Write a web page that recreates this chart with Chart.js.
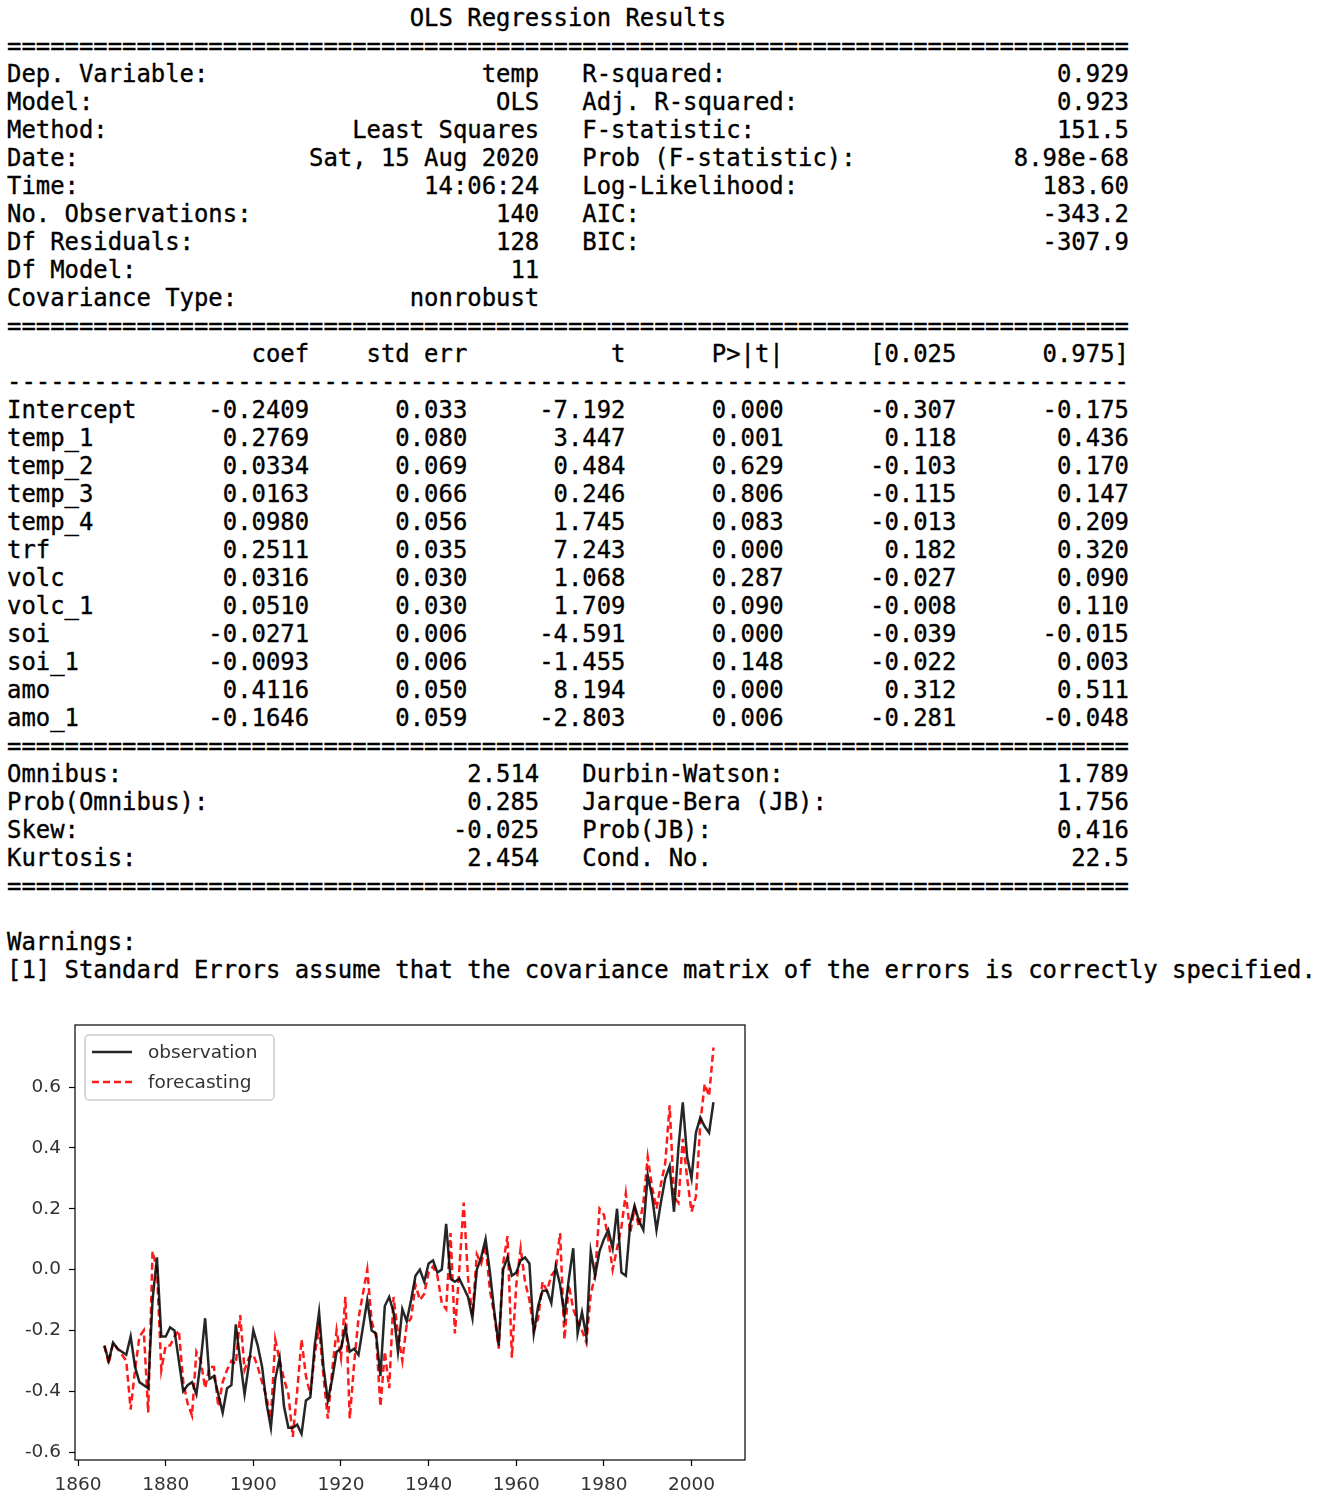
<!DOCTYPE html>
<html>
<head>
<meta charset="utf-8">
<script src="https://cdn.jsdelivr.net/npm/chart.js@4.4.1/dist/chart.umd.min.js"></script>
<style>
  html, body { margin: 0; padding: 0; background: #fff; overflow: hidden; }
  body { width: 1328px; height: 1510px; position: relative; }
  #summary {
    position: absolute; left: 7px; top: 4px; margin: 0;
    font-family: "DejaVu Sans Mono", monospace; font-size: 23.9px; line-height: 28px; color: #000;
    -webkit-text-stroke: 0.35px #000;
  }
  #plot { position: absolute; left: 0; top: 1000px; width: 760px; height: 510px; }
</style>
</head>
<body>
<pre id="summary"></pre>
<div id="plot"><canvas id="chart"></canvas></div>
<script>
// ---- summary table (statsmodels text) ----
const topLeft = [
  ["Dep. Variable:", "temp"], ["Model:", "OLS"], ["Method:", "Least Squares"],
  ["Date:", "Sat, 15 Aug 2020"], ["Time:", "14:06:24"], ["No. Observations:", "140"],
  ["Df Residuals:", "128"], ["Df Model:", "11"], ["Covariance Type:", "nonrobust"]
];
const topRight = [
  ["R-squared:", "0.929"], ["Adj. R-squared:", "0.923"], ["F-statistic:", "151.5"],
  ["Prob (F-statistic):", "8.98e-68"], ["Log-Likelihood:", "183.60"], ["AIC:", "-343.2"],
  ["BIC:", "-307.9"], ["", ""], ["", ""]
];
const coefHeader = ["coef", "std err", "t", "P>|t|", "[0.025", "0.975]"];
const coefRows = [
  ["Intercept", "-0.2409", "0.033", "-7.192", "0.000", "-0.307", "-0.175"],
  ["temp_1", "0.2769", "0.080", "3.447", "0.001", "0.118", "0.436"],
  ["temp_2", "0.0334", "0.069", "0.484", "0.629", "-0.103", "0.170"],
  ["temp_3", "0.0163", "0.066", "0.246", "0.806", "-0.115", "0.147"],
  ["temp_4", "0.0980", "0.056", "1.745", "0.083", "-0.013", "0.209"],
  ["trf", "0.2511", "0.035", "7.243", "0.000", "0.182", "0.320"],
  ["volc", "0.0316", "0.030", "1.068", "0.287", "-0.027", "0.090"],
  ["volc_1", "0.0510", "0.030", "1.709", "0.090", "-0.008", "0.110"],
  ["soi", "-0.0271", "0.006", "-4.591", "0.000", "-0.039", "-0.015"],
  ["soi_1", "-0.0093", "0.006", "-1.455", "0.148", "-0.022", "0.003"],
  ["amo", "0.4116", "0.050", "8.194", "0.000", "0.312", "0.511"],
  ["amo_1", "-0.1646", "0.059", "-2.803", "0.006", "-0.281", "-0.048"]
];
const bottomLeft = [["Omnibus:", "2.514"], ["Prob(Omnibus):", "0.285"], ["Skew:", "-0.025"], ["Kurtosis:", "2.454"]];
const bottomRight = [["Durbin-Watson:", "1.789"], ["Jarque-Bera (JB):", "1.756"], ["Prob(JB):", "0.416"], ["Cond. No.", "22.5"]];

// ---- chart data ----
const firstYear = 1866;
const observation = [
  -0.25, -0.30, -0.24, -0.26, -0.27, -0.28, -0.22, -0.32, -0.37, -0.38,
  -0.39, -0.10, 0.04, -0.22, -0.22, -0.19, -0.20, -0.30, -0.40, -0.38,
  -0.37, -0.41, -0.30, -0.16, -0.36, -0.35, -0.41, -0.47, -0.39, -0.38,
  -0.18, -0.30, -0.41, -0.31, -0.20, -0.25, -0.32, -0.44, -0.52, -0.36,
  -0.29, -0.45, -0.52, -0.52, -0.51, -0.54, -0.43, -0.42, -0.25, -0.14,
  -0.32, -0.43, -0.36, -0.27, -0.26, -0.19, -0.27, -0.26, -0.28, -0.19,
  -0.10, -0.20, -0.21, -0.35, -0.12, -0.09, -0.14, -0.27, -0.13, -0.17,
  -0.10, -0.02, 0.00, -0.04, 0.02, 0.03, -0.01, 0.00, 0.15, -0.03,
  -0.04, -0.03, -0.06, -0.09, -0.16, 0.00, 0.04, 0.10, -0.01, -0.14,
  -0.25, 0.00, 0.04, -0.02, -0.01, 0.03, 0.04, 0.02, -0.21, -0.12,
  -0.07, -0.07, -0.11, 0.01, -0.05, -0.15, -0.03, 0.07, -0.21, -0.14,
  -0.22, 0.06, -0.02, 0.06, 0.10, 0.13, 0.07, 0.20, -0.01, -0.02,
  0.15, 0.21, 0.16, 0.13, 0.31, 0.24, 0.13, 0.22, 0.30, 0.34,
  0.19, 0.40, 0.55, 0.37, 0.30, 0.45, 0.50, 0.47, 0.45, 0.55
];
const forecasting = [
  -0.25, -0.31, -0.24, -0.26, -0.28, -0.30, -0.46, -0.33, -0.22, -0.20,
  -0.47, 0.06, 0.00, -0.33, -0.25, -0.25, -0.22, -0.20, -0.37, -0.44,
  -0.48, -0.27, -0.30, -0.39, -0.32, -0.32, -0.45, -0.37, -0.33, -0.30,
  -0.31, -0.15, -0.33, -0.29, -0.28, -0.32, -0.37, -0.42, -0.49, -0.23,
  -0.30, -0.36, -0.41, -0.55, -0.40, -0.23, -0.35, -0.41, -0.28, -0.19,
  -0.35, -0.49, -0.33, -0.20, -0.29, -0.09, -0.49, -0.31, -0.16, -0.08,
  0.00, -0.17, -0.22, -0.45, -0.27, -0.39, -0.09, -0.21, -0.30, -0.18,
  -0.16, -0.05, -0.10, -0.08, -0.01, 0.01, -0.02, -0.11, -0.13, 0.12,
  -0.21, 0.00, 0.22, -0.03, -0.15, 0.05, 0.02, 0.08, -0.07, -0.15,
  -0.26, 0.02, 0.11, -0.29, -0.05, 0.07, -0.04, -0.10, -0.20, -0.16,
  -0.04, -0.07, -0.02, 0.00, 0.12, -0.23, -0.05, -0.13, -0.17, -0.20,
  -0.24, -0.08, -0.02, 0.20, 0.18, 0.10, 0.00, 0.07, 0.14, 0.25,
  0.12, 0.20, 0.14, 0.22, 0.37, 0.27, 0.20, 0.28, 0.35, 0.54,
  0.24, 0.22, 0.43, 0.30, 0.19, 0.24, 0.48, 0.61, 0.57, 0.73
];
const xTicks = [1860, 1880, 1900, 1920, 1940, 1960, 1980, 2000];
const yTicks = [-0.6, -0.4, -0.2, 0.0, 0.2, 0.4, 0.6];

// build the text block
function pair(l1, v1, l2, v2) {
  return l1 + v1.padStart(37 - l1.length) + "   " + l2 + v2.padStart(38 - l2.length);
}
const eq = "=".repeat(78), dash = "-".repeat(78);
const lines = [];
lines.push(" ".repeat(28) + "OLS Regression Results");
lines.push(eq);
topLeft.forEach((p, i) => lines.push(pair(p[0], p[1], topRight[i][0], topRight[i][1])));
lines.push(eq);
const widths = [21, 11, 11, 11, 12, 12];
lines.push(coefHeader.map((h, i) => h.padStart(widths[i])).join(""));
lines.push(dash);
coefRows.forEach(r => {
  let s = r[0] + r[1].padStart(21 - r[0].length);
  for (let i = 2; i < r.length; i++) s += r[i].padStart(widths[i - 1]);
  lines.push(s);
});
lines.push(eq);
bottomLeft.forEach((p, i) => lines.push(pair(p[0], p[1], bottomRight[i][0], bottomRight[i][1])));
lines.push(eq);
lines.push("");
lines.push("Warnings:");
lines.push("[1] Standard Errors assume that the covariance matrix of the errors is correctly specified.");
document.getElementById("summary").textContent = lines.join("\n");

// points
const obsPts = observation.map((v, i) => ({ x: firstYear + i, y: v }));
const fcPts = forecasting.map((v, i) => ({ x: firstYear + i, y: v }));

// box around the axes, like matplotlib
const frame = {
  id: "frame",
  afterDatasetsDraw(chart) {
    const { ctx, chartArea: a } = chart;
    ctx.save();
    ctx.strokeStyle = "#000";
    ctx.lineWidth = 1.2;
    ctx.strokeRect(a.left, a.top, a.right - a.left, a.bottom - a.top);
    ctx.restore();
  }
};

// legend drawn inside the upper left corner
const legendInside = {
  id: "legendInside",
  afterDraw(chart) {
    const { ctx, chartArea: a } = chart;
    const x = a.left + 10, y = a.top + 10, w = 189, h = 65;
    ctx.save();
    ctx.fillStyle = "rgba(255,255,255,0.85)";
    ctx.strokeStyle = "#cccccc";
    ctx.lineWidth = 1.5;
    ctx.beginPath();
    if (ctx.roundRect) ctx.roundRect(x, y, w, h, 4); else ctx.rect(x, y, w, h);
    ctx.fill();
    ctx.stroke();
    ctx.font = '18.5px "DejaVu Sans", sans-serif';
    ctx.textBaseline = "middle";
    chart.data.datasets.forEach((ds, i) => {
      const ly = y + 17 + i * 30;
      ctx.strokeStyle = ds.borderColor;
      ctx.lineWidth = ds.borderWidth;
      ctx.setLineDash(ds.borderDash || []);
      ctx.beginPath();
      ctx.moveTo(x + 7, ly);
      ctx.lineTo(x + 47, ly);
      ctx.stroke();
      ctx.setLineDash([]);
      ctx.fillStyle = "#333";
      ctx.fillText(ds.label, x + 63, ly + 1);
    });
    ctx.restore();
  }
};

const tickFont = { family: '"DejaVu Sans", sans-serif', size: 18.5 };

new Chart(document.getElementById("chart"), {
  type: "line",
  data: {
    datasets: [
      {
        label: "observation",
        data: obsPts,
        borderColor: "rgba(0,0,0,0.85)",
        borderWidth: 2.5,
        pointRadius: 0,
        tension: 0
      },
      {
        label: "forecasting",
        data: fcPts,
        borderColor: "rgba(255,0,0,0.9)",
        borderWidth: 2.5,
        borderDash: [7, 4],
        pointRadius: 0,
        tension: 0
      }
    ]
  },
  options: {
    responsive: true,
    maintainAspectRatio: false,
    animation: false,
    layout: { padding: { top: 25, right: 15, left: 0, bottom: 0 } },
    plugins: { legend: { display: false }, tooltip: { enabled: false } },
    scales: {
      x: {
        type: "linear",
        min: 1859.3,
        max: 2012.2,
        afterBuildTicks: s => { s.ticks = xTicks.map(v => ({ value: v })); },
        afterFit: s => { s.height = 50; },
        grid: { drawOnChartArea: false, drawTicks: true, tickLength: 6, tickColor: "#000", tickWidth: 1.2 },
        border: { display: false },
        ticks: { font: tickFont, color: "#333", padding: 8, maxRotation: 0, callback: v => String(v) }
      },
      y: {
        type: "linear",
        min: -0.626,
        max: 0.804,
        afterBuildTicks: s => { s.ticks = yTicks.map(v => ({ value: v })); },
        afterFit: s => { s.width = 75; },
        grid: { drawOnChartArea: false, drawTicks: true, tickLength: 6, tickColor: "#000", tickWidth: 1.2 },
        border: { display: false },
        ticks: { font: tickFont, color: "#333", padding: 8, callback: v => v.toFixed(1) }
      }
    }
  },
  plugins: [frame, legendInside]
});
</script>
</body>
</html>
